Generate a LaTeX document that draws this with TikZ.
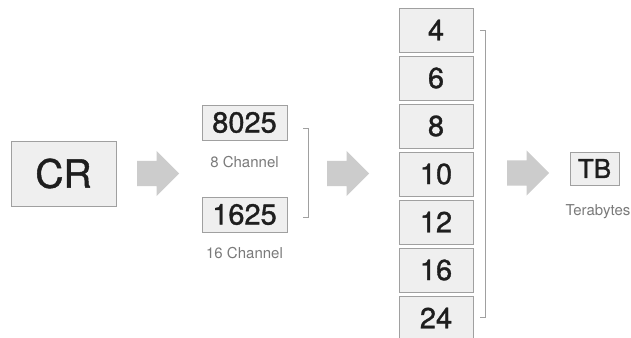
\documentclass[tikz,border=0pt]{standalone}
\usepackage{fontspec}
\setmainfont{TeX Gyre Heros}
\newfontfamily\numfont[FakeBold=1.2]{TeX Gyre Heros}
\usetikzlibrary{shapes.arrows,positioning}
\definecolor{boxfill}{HTML}{EFEFEF}
\definecolor{boxline}{HTML}{A0A0A0}
\definecolor{arrowgray}{HTML}{CCCCCC}
\definecolor{numtext}{HTML}{1E1E1E}
\definecolor{captext}{HTML}{7A7A7A}
\tikzset{
  valbox/.style={draw=boxline,fill=boxfill,line width=0.9pt,text=numtext,inner sep=0pt},
  bigarrow/.style={single arrow,fill=arrowgray,draw=none,inner xsep=0pt,inner ysep=12.5pt,
    minimum height=42pt,single arrow head extend=10pt,single arrow tip angle=90,anchor=tail},
  caption/.style={text=captext,font=\fontsize{15}{15}\selectfont,inner sep=0pt},
  bracket/.style={draw=boxline,line width=0.8pt}
}
\begin{document}
\begin{tikzpicture}[x=1pt,y=-1pt]
\clip (0,0) rectangle (631,337);
\fill[white] (0,0) rectangle (631,337);
% source
\node[valbox,minimum width=105pt,minimum height=65pt,font=\numfont\fontsize{39}{39}\selectfont] (cr) at (63.5,173.5) {CR};
\node[bigarrow] (arrA) at (137,173.5) {};
% models
\node[valbox,minimum width=85pt,minimum height=35pt,font=\numfont\fontsize{29}{29}\selectfont] (m8025) at (244.5,122.5) {8025};
\node[caption,below=16pt of m8025] (c8025) {8 Channel};
\node[valbox,minimum width=85pt,minimum height=35pt,font=\numfont\fontsize{29}{29}\selectfont] (m1625) at (244.5,214.5) {1625};
\node[caption,below=15pt of m1625] (c1625) {16 Channel};
\draw[bracket] (303,128) -| (308,217) -- (303,217);
\node[bigarrow] (arrB) at (327,173.5) {};
% capacities
\foreach \v [count=\i from 0] in {4,6,8,10,12,16,24}
  \node[valbox,minimum width=74pt,minimum height=44pt,font=\numfont\fontsize{29}{29}\selectfont] (cap\v) at (436,30+48*\i) {\v};
\draw[bracket] (480,30) -| (485,317) -- (480,317);
\node[bigarrow] (arrC) at (507,173) {};
% unit
\node[valbox,minimum width=49pt,minimum height=33pt,font=\numfont\fontsize{26}{26}\selectfont] (tb) at (594.5,168.5) {TB};
\node[caption,below=18.5pt of tb,xshift=3.5pt] (ctb) {Terabytes};
\end{tikzpicture}
\end{document}
